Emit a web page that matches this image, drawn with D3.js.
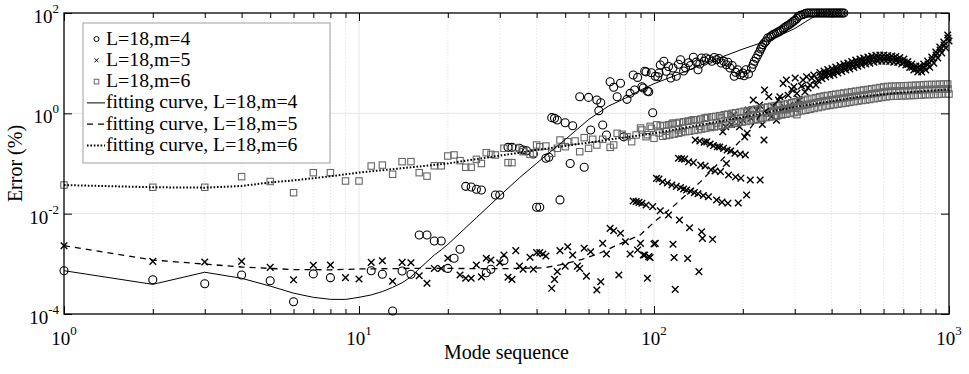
<!DOCTYPE html>
<html>
<head>
<meta charset="utf-8">
<script src="https://cdn.jsdelivr.net/npm/d3@7"></script>
<style>
  body { margin: 0; background: #fff; }
  text { font-family: "Liberation Serif", "Times New Roman", serif; fill: #000; }
</style>
</head>
<body>
<svg id="chart" width="969" height="374"></svg>
<script>
// ---- data: [mode, error %] ----
var m4Points = [[1,7.3e-4],[2,4.8e-4],[3,4.0e-4],[4,6.0e-4],[5,4.6e-4],[6,1.76e-4],[7,6.3e-4],[8,5.3e-4],
  [11,7.3e-4],[12,6.2e-4],[13,1.15e-4],[14,7.2e-4],[15,6.2e-4],[16,3.76e-3],[17,3.76e-3],[18,2.86e-3],[19,2.86e-3],[20,8.1e-4],
  [21,1.29e-3],[22,1.95e-3],[23,3.5e-2],[24,3.4e-2],[25,3.06e-2],[26,2.96e-2],[27,6.65e-4],[28,7.8e-4],[29,2.36e-2],[30,2.36e-2],
  [31,1.17e-3],[32,0.21],[33,0.21],[35,0.2],[36,0.186],[37,0.18],[39,0.155],[40,1.34e-2],[41,1.34e-2],[43,0.127],[44,0.133],
  [45,0.82],[46,0.795],[47,0.735],[48,1.88e-2],[50,0.65],[52,0.1],[53,0.565],[56,2.14],[58,0.084],[60,2.08],[61,0.465],
  [64,1.84],[65,1.13],[66,1.63],[67,0.585],[69,0.37],[71,4.27],[73,3.3],[75,2.14],[77,3.97],[79,0.34],[81,1.9],[83,2.5],
  [85,5.8],[86,2.92],[88,5.2],[91,3.39],[92,3.2],[93,6.9],[94,6.7],[95,2.75],[96,2.7],[98,6.45],[99,1.03],[101,5.5],
  [103,5.35],[104,6.35],[105,9.2],[108,10.9],[110,6.9],[112,8.6],[114,5.06],[116,8.0],[119,5.5],[121,9.5],[123,11.7],
  [126,7.0],[128,8.0],[131,10.2],[133,9.0],[136,13.1],[139,10.5],[141,7.4],[143,9.6],[145,12.7],[148,11.0],[150,12.7],
  [154,12.0],[157,10.9],[160,13.0],[163,11.7],[166,12.4],[169,10.1],[172,11.0],[176,9.3],[178,10.4],[181,8.0],[184,9.0],
  [187,5.5],[189,6.6],[192,7.4],[196,5.9],[200,6.35],[202,5.6],[205,7.4],[209,6.1],[214,8.0],[217,9.5],[219,10.9],
  [222,12.5],[225,14.7],[228,16.8],[230,19.1],[232,21.0],[234,23.4],[237,25.5],[240,27.6],[243,31.8],[247,33.0],[250,34.7],
  [253,36.9],[256,38.0],[260,39.9],[263,41.5],[267,43.1],[270,45.5],[274,48],[277,51],[281,54.2],[285,57],[289,60],[293,64],
  [297,68.2],[301,72],[305,77.6],[309,85.8],[314,90],[320,93],[325,97],[330,100],[335,100],[340,100],[345,100],[350,100],
  [355,100],[360,100],[365,100],[370,100],[375,100],[380,100],[385,100],[390,100],[395,100],[400,100],[405,100],[410,100],
  [415,100],[420,100],[425,100],[430,100],[435,100],[440,100]];

var m5Points = [[1,2.3e-3],[2,1.12e-3],[3,1.09e-3],[4,1.12e-3],[5,8.5e-4],[6,4.8e-4],[7,9.35e-4],[8,9.5e-4],[9,5.3e-4],
  [10,5.0e-4],[11,1.07e-3],[12,1.15e-3],[13,4.5e-4],[14,1.07e-3],[15,1.05e-3],[16,5.8e-4],[17,4.1e-4],[18,8.1e-4],[19,8.1e-4],
  [20,1.29e-3],[22,6.0e-4],[23,5.15e-4],[24,5.15e-4],[25,9.5e-4],[26,5.5e-4],[27,1.29e-3],[28,1.19e-3],[30,1.05e-3],
  [31,1.5e-3],[32,5.4e-4],[33,4.9e-4],[34,1.83e-3],[35,9.0e-4],[36,7.8e-4],[38,1.35e-3],[39,7.8e-4],[40,1.67e-3],
  [41,1.67e-3],[42,1.57e-3],[43,1.43e-3],[45,3.25e-4],[46,4.9e-4],[47,7.0e-4],[48,1.83e-3],[50,9.0e-4],[51,2.19e-3],
  [53,1.5e-3],[55,9.0e-4],[56,8.1e-4],[58,2.04e-3],[59,5.7e-4],[61,1.74e-3],[64,3.0e-4],[66,4.4e-4],[67,2.56e-3],
  [69,1.57e-3],[71,5.1e-3],[73,4.57e-3],[76,6.0e-4],[77,4.06e-3],[80,2.76e-3],[83,1.57e-3],[85,1.79e-2],[87,1.74e-2],
  [88,1.88e-3],[89,1.68e-2],[90,2.56e-3],[91,1.61e-2],[92,1.5e-3],[93,1.5e-3],[94,1.49e-2],[95,5.15e-4],[96,1.39e-3],
  [97,1.34e-3],[99,1.38e-2],[100,2.49e-3],[101,2.56e-3],[105,1.14e-2],[112,9.4e-3],[116,2.45e-3],[117,1.34e-3],
  [118,3.1e-4],[122,7.5e-3],[130,1.28e-3],[132,5.25e-3],[142,7.0e-4],[145,4.36e-3],[146,3.22e-3],[158,3.08e-3],
  [102,0.0506],[104,0.049],[107,0.0434],[111,0.041],[115,0.0372],[119,0.035],[123,0.0333],[126,0.031],[129,0.0297],
  [133,0.028],[137,0.0263],[141,0.025],[147,0.023],[153,0.0218],[163,0.0187],[170,0.017],[178,0.0161],[193,0.0163],[206,0.0235],
  [121,0.127],[124,0.124],[127,0.122],[131,0.108],[136,0.104],[144,0.093],[149,0.089],[156,0.0745],[161,0.071],[168,0.069],
  [176,0.1],[179,0.059],[189,0.054],[197,0.051],[212,0.047],[229,0.047],
  [138,0.294],[143,0.28],[148,0.267],[151,0.27],[155,0.245],[159,0.227],[164,0.216],[167,0.213],[172,0.2],[177,0.186],
  [182,0.177],[188,0.16],[196,0.155],[204,0.148],
  [171,0.43],[175,0.54],[183,0.6],[186,0.92],[195,0.54],[200,0.73],[203,0.34],[207,0.40],[209,1.16],[213,0.8],[217,1.84],
  [223,1.16],[228,1.46],[233,0.6],[236,0.294],[237,2.91],[241,1.0],[245,2.14],[250,0.86],[254,1.35],[260,0.73],[264,1.84],
  [267,2.14],[271,1.16],[274,3.96],[277,1.3],[281,4.61],[285,2.3],[289,1.46],[293,3.0],[298,3.39],[301,5.05],[305,2.5],
  [309,1.9],[312,1.84],[316,3.5],[320,4.61],[325,2.66],[329,5.35],[333,3.2],[338,3.67],[343,5.0],[348,5.8],[354,3.67],[360,4.5],
  [365,6.5],[377,6.97],[388,7.46],[401,7.8],[413,8.37],[427,8.97],[440,9.6],[454,10.1],[468,10.8],[483,11.5],[499,12.1],
  [514,12.7],[531,13.2],[547,13.9],[565,14.3],[583,14.5],[601,14.5],[620,14.2],[640,13.9],[660,13.6],[681,12.9],[703,12.1],
  [725,10.8],[748,9.6],[772,8.8],[796,8.8],[821,9.6],[847,11.0],[874,13.2],[902,16.7],[931,21.0],[960,26.4],[990,36.4],
  [367,5.66],[379,6.06],[390,6.49],[403,6.79],[415,7.28],[429,7.8],[442,8.35],[456,8.79],[470,9.4],[485,10.0],[501,10.5],
  [516,11.05],[533,11.5],[549,12.1],[567,12.4],[585,12.6],[603,12.6],[622,12.35],[642,12.1],[662,11.8],[683,11.2],[705,10.5],
  [727,9.4],[750,8.35],[774,7.66],[798,7.66],[823,8.35],[849,9.57],[876,11.5],[904,14.5],[933,18.3],[962,23.0],[992,31.7],
  [371,4.9],[382,5.3],[395,5.7],[407,5.9],[420,6.35],[433,6.8],[447,7.3],[461,7.7],[476,8.2],[491,8.7],[506,9.2],[522,9.6],
  [539,10.0],[556,10.5],[574,10.9],[592,11.0],[611,11.0],[630,10.8],[650,10.5],[670,10.3],[692,9.8],[714,9.2],[736,8.2],
  [760,7.3],[784,6.7],[808,6.7],[834,7.3],[860,8.3],[888,10.0],[916,12.7],[945,16.0],[975,20.0],[1000,27.6]];

var m6Points = [[1,3.73e-2],[2,3.36e-2],[3,3.36e-2],[4,5.46e-2],[5,4.38e-2],[6,2.62e-2],[7,6.56e-2],[8,6.56e-2],
  [9,4.48e-2],[10,4.48e-2],[11,8.9e-2],[12,9.3e-2],[13,6.1e-2],[14,0.109],[15,0.109],[16,6.56e-2],[17,5.6e-2],[18,9.0e-2],
  [19,9.0e-2],[20,0.141],[21,0.148],[22,0.114],[23,0.084],[24,0.084],[25,0.121],[26,0.1],[27,0.164],[28,0.152],[29,0.148],
  [31,0.201],[32,0.104],[33,0.104],[34,0.207],[36,0.172],[38,0.152],[39,0.16],[40,0.234],[41,0.216],[43,0.223],[45,0.16],
  [47,0.201],[48,0.294],[50,0.216],[51,0.272],[54,0.281],[56,0.172],[58,0.327],[60,0.201],[62,0.304],[64,0.234],[67,0.304],
  [71,0.21],[73,0.234],[75,0.4],[78,0.382],[81,0.342],[84,0.272],[87,0.37],[90,0.51],[91,0.466],[94,0.342],[95,0.375],
  [97,0.55],[98,0.503],[100,0.318],[102,0.59],
  [104,0.405],[110,0.44],[116,0.64],[121,0.47],[125,0.51],[130,0.69],[136,0.745],[143,0.55],[150,0.81],[156,0.55],[163,0.64],
  [169,0.81],[177,0.94],[183,0.87],[190,0.69],[197,0.81],[206,1.01],[214,0.94],[222,0.745],[230,0.81],[241,1.01],[250,1.1],
  [260,0.87],[270,0.94],[281,1.18],[291,1.28],[305,0.94],
  [105,0.56],[108,0.575],[112,0.59],[115,0.61],[119,0.63],[122,0.66],[126,0.68],[131,0.70],[134,0.72],[139,0.745],[144,0.77],
  [148,0.80],[152,0.83],[157,0.85],[162,0.87],[167,0.90],[173,0.94],[178,0.96],[184,1.0],[189,1.03],[196,1.06],[202,1.10],
  [208,1.13],[215,1.18],[222,1.21],[229,1.25],[236,1.30],[243,1.34],[251,1.39],[259,1.43],[267,1.48],[276,1.52],[284,1.57],
  [293,1.63],[303,1.70],[312,1.77],[322,1.83],[332,1.91],[343,1.99],[354,2.06],[365,2.15],[377,2.22],[388,2.28],[401,2.35],
  [413,2.42],[427,2.48],[440,2.55],[454,2.62],[468,2.70],[483,2.77],[499,2.85],[514,2.92],[531,3.0],[547,3.09],[565,3.17],
  [583,3.27],[601,3.36],[620,3.45],[640,3.47],[660,3.50],[681,3.52],[703,3.55],[725,3.57],[748,3.6],[772,3.64],[796,3.66],
  [821,3.73],[847,3.75],[874,3.77],[902,3.78],[931,3.82],[960,3.84],[990,3.84],
  [253,1.105],[261,1.137],[269,1.177],[278,1.208],[286,1.248],[295,1.296],[305,1.35],[314,1.407],[324,1.455],[334,1.518],
  [345,1.582],[356,1.638],[367,1.709],[379,1.765],[390,1.813],[403,1.868],[415,1.924],[429,1.972],[442,2.027],[456,2.083],
  [470,2.147],[485,2.202],[501,2.266],[516,2.321],[533,2.385],[549,2.457],[567,2.52],[585,2.6],[603,2.67],[622,2.743],
  [642,2.759],[662,2.783],[683,2.8],[705,2.82],[727,2.84],[750,2.86],[774,2.89],[798,2.91],[823,2.965],[849,2.98],
  [876,3.0],[904,3.0],[933,3.04],[962,3.05],[992,3.05],
  [107,0.35],[110,0.36],[113,0.37],[117,0.385],[121,0.40],[124,0.415],[128,0.43],[132,0.44],[137,0.455],[141,0.47],[145,0.485],
  [150,0.50],[155,0.52],[160,0.535],[165,0.55],[170,0.57],[175,0.59],[181,0.605],[187,0.63],[193,0.65],[199,0.67],[205,0.69],
  [212,0.71],[218,0.74],[225,0.76],[232,0.79],[240,0.82],[247,0.84],[255,0.88],[263,0.90],[271,0.93],[280,0.96],[289,0.99],
  [298,1.03],[307,1.07],[317,1.12],[327,1.15],[338,1.2],[349,1.25],[360,1.3],[371,1.35],[383,1.4],[395,1.44],[407,1.48],
  [420,1.52],[433,1.56],[447,1.6],[461,1.65],[476,1.7],[491,1.75],[506,1.8],[522,1.84],[539,1.89],[556,1.95],[574,2.0],
  [592,2.06],[611,2.12],[630,2.17],[650,2.19],[670,2.2],[692,2.22],[714,2.24],[736,2.25],[760,2.27],[784,2.29],[808,2.31],
  [834,2.35],[860,2.36],[888,2.38],[916,2.38],[945,2.41],[975,2.42],[1000,2.42]];

var fit4 = [[1,7.3e-4],[2,3.9e-4],[3,6.8e-4],[4,5.15e-4],[5,3.6e-4],[6,2.6e-4],[7,2.15e-4],[8,1.96e-4],[9,1.95e-4],
  [10,2.15e-4],[11,2.4e-4],[12,2.8e-4],[13,3.4e-4],[14,4.2e-4],[15,5.5e-4],[16,8.0e-4],[17,1.1e-3],[18,1.5e-3],[19,1.9e-3],
  [20,2.44e-3],[25,8.3e-3],[30,2.27e-2],[35,5.2e-2],[40,0.101],[50,0.30],[60,0.75],[70,1.39],[80,2.0],[90,2.9],[100,3.9],
  [120,5.9],[150,10.1],[200,19.1],[250,29.9],[300,49],[340,77.6],[370,100],[400,130]];
var fit5 = [[1,2.3e-3],[2,1.19e-3],[3,9.9e-4],[4,8.65e-4],[5,8.1e-4],[6,7.7e-4],[8,7.6e-4],[10,7.9e-4],[15,8.1e-4],
  [20,8.1e-4],[30,8.0e-4],[42,8.3e-4],[48,9.5e-4],[53,1.1e-3],[57,1.23e-3],[65,1.6e-3],[73,2.2e-3],[90,3.8e-3],
  [102,7.5e-3],[116,1.38e-2],[143,4.2e-2],[176,0.148],[200,0.32],[229,0.92],[289,2.66],[373,5.05],[474,8.8],
  [631,12.1],[738,10.0],[796,7.7],[862,10.5],[931,18],[1000,34]];
var fit6 = [[1,3.72e-2],[2,3.36e-2],[3,3.3e-2],[4,3.56e-2],[5,4.2e-2],[6,4.6e-2],[8,5.56e-2],[10,6.6e-2],[15,8.4e-2],
  [20,0.1],[40,0.186],[100,0.4],[200,0.84],[300,1.34],[500,2.15],[700,2.6],[1000,3.0]];

var legendLabels = ["L=18,m=4", "L=18,m=5", "L=18,m=6",
  "fitting curve, L=18,m=4", "fitting curve, L=18,m=5", "fitting curve, L=18,m=6"];
var xTickExps = [0, 1, 2, 3];
var yTickExps = [-4, -2, 0, 2];

var svg = d3.select("#chart"),
    plotL = 64, plotR = 949, plotT = 13, plotB = 314;

var x = d3.scaleLog().domain([1, 1000]).range([plotL, plotR]);
var y = d3.scaleLog().domain([1e-4, 1e2]).range([plotB, plotT]);

var isDecade = function(v) { return Math.abs(Math.log10(v) - Math.round(Math.log10(v))) < 1e-9; };
var xAll = x.ticks();
var xMinor = xAll.filter(function(d) { return !isDecade(d); });
var xMajor = xTickExps.map(function(e) { return Math.pow(10, e); });
var yMajor = yTickExps.map(function(e) { return Math.pow(10, e); });

// grid
var grid = svg.append("g");
grid.selectAll(".gminor").data(xMinor).enter().append("line")
    .attr("x1", function(d) { return x(d); }).attr("x2", function(d) { return x(d); })
    .attr("y1", plotT).attr("y2", plotB)
    .attr("stroke", "#d4d4d4").attr("stroke-width", 0.7).attr("stroke-dasharray", "1,2");
grid.selectAll(".gx").data(xMajor.slice(1, -1)).enter().append("line")
    .attr("x1", function(d) { return x(d); }).attr("x2", function(d) { return x(d); })
    .attr("y1", plotT).attr("y2", plotB)
    .attr("stroke", "#e6e6e6").attr("stroke-width", 1);
grid.selectAll(".gy").data(yMajor.slice(1, -1)).enter().append("line")
    .attr("x1", plotL).attr("x2", plotR)
    .attr("y1", function(d) { return y(d); }).attr("y2", function(d) { return y(d); })
    .attr("stroke", "#e6e6e6").attr("stroke-width", 1);

// scatter markers
var marks = svg.append("g");
marks.append("g").selectAll("circle").data(m4Points).enter().append("circle")
    .attr("cx", function(d) { return x(d[0]); })
    .attr("cy", function(d) { return y(d[1]); })
    .attr("r", 4).attr("fill", "none").attr("stroke", "#000").attr("stroke-width", 1.1);

marks.append("g").selectAll("path").data(m5Points).enter().append("path")
    .attr("d", "M-3.3,-3.3L3.3,3.3M-3.3,3.3L3.3,-3.3")
    .attr("transform", function(d) { return "translate(" + x(d[0]) + "," + y(d[1]) + ")"; })
    .attr("stroke", "#000").attr("stroke-width", 1.4).attr("fill", "none");

marks.append("g").selectAll("rect").data(m6Points).enter().append("rect")
    .attr("x", function(d) { return x(d[0]) - 3.2; })
    .attr("y", function(d) { return y(d[1]) - 3.2; })
    .attr("width", 6.4).attr("height", 6.4)
    .attr("fill", "none").attr("stroke", "#666").attr("stroke-width", 1.1);

// fitting curves
svg.append("clipPath").attr("id", "plotclip").append("rect")
    .attr("x", plotL).attr("y", plotT).attr("width", plotR - plotL).attr("height", plotB - plotT);

var line = d3.line()
    .x(function(d) { return x(d[0]); })
    .y(function(d) { return y(d[1]); });

var fits = [
  {data: fit4, dash: null, w: 1},
  {data: fit5, dash: "6,5", w: 1.3},
  {data: fit6, dash: "1.6,1.8", w: 2}
];
svg.append("g").attr("clip-path", "url(#plotclip)")
  .selectAll("path").data(fits).enter().append("path")
    .attr("d", function(d) { return line(d.data); })
    .attr("fill", "none").attr("stroke", "#000")
    .attr("stroke-width", function(d) { return d.w; })
    .attr("stroke-dasharray", function(d) { return d.dash; });

// axes (ticks point inward)
svg.append("g").attr("transform", "translate(0," + plotB + ")")
    .call(d3.axisBottom(x).tickValues(xMajor).tickSize(-8).tickSizeOuter(0).tickFormat(""));
svg.append("g").attr("transform", "translate(0," + plotB + ")")
    .call(d3.axisBottom(x).tickValues(xMinor).tickSize(-5).tickSizeOuter(0).tickFormat(""));
svg.append("g").attr("transform", "translate(0," + plotT + ")")
    .call(d3.axisTop(x).tickValues(xMajor).tickSize(-8).tickSizeOuter(0).tickFormat(""));
svg.append("g").attr("transform", "translate(0," + plotT + ")")
    .call(d3.axisTop(x).tickValues(xMinor).tickSize(-5).tickSizeOuter(0).tickFormat(""));
svg.append("g").attr("transform", "translate(" + plotL + ",0)")
    .call(d3.axisLeft(y).tickValues(yMajor).tickSize(-8).tickSizeOuter(0).tickFormat(""));
svg.append("g").attr("transform", "translate(" + plotR + ",0)")
    .call(d3.axisRight(y).tickValues(yMajor).tickSize(-8).tickSizeOuter(0).tickFormat(""));
svg.selectAll(".domain").remove();
svg.selectAll(".tick line").attr("stroke", "#000").attr("stroke-width", 1);

svg.append("rect")
    .attr("x", plotL).attr("y", plotT).attr("width", plotR - plotL).attr("height", plotB - plotT)
    .attr("fill", "none").attr("stroke", "#000").attr("stroke-width", 1.3);

// tick labels 10^n
var xl = svg.append("g").selectAll("text").data(xTickExps).enter().append("text")
    .attr("x", function(d) { return x(Math.pow(10, d)); })
    .attr("y", 345)
    .attr("text-anchor", "middle")
    .style("font-size", "19px");
xl.append("tspan").text("10");
xl.append("tspan").attr("dy", -10).style("font-size", "13px").text(function(d) { return d; });

var yl = svg.append("g").selectAll("text").data(yTickExps).enter().append("text")
    .attr("x", 59)
    .attr("y", function(d) { return y(Math.pow(10, d)) + 10; })
    .attr("text-anchor", "end")
    .style("font-size", "19px");
yl.append("tspan").text("10");
yl.append("tspan").attr("dy", -10).style("font-size", "13px").text(function(d) { return d; });

// axis titles
svg.append("text")
    .attr("x", (plotL + plotR) / 2).attr("y", 359)
    .attr("text-anchor", "middle").style("font-size", "20px")
    .text("Mode sequence");
svg.append("text")
    .attr("transform", "translate(22," + (plotT + plotB) / 2 + ") rotate(-90)")
    .attr("text-anchor", "middle").style("font-size", "20px")
    .text("Error (%)");

// legend
var lg = svg.append("g");
lg.append("rect").attr("x", 83).attr("y", 23).attr("width", 247).attr("height", 140)
    .attr("fill", "#fff").attr("stroke", "#a0a0a0").attr("stroke-width", 1);

var rowY = function(i) { return 39 + i * 21.3; };
var rows = lg.selectAll("g.row").data(legendLabels).enter().append("g")
    .attr("class", "row")
    .attr("transform", function(d, i) { return "translate(0," + rowY(i) + ")"; });

rows.append("text").attr("x", 106).attr("y", 5.5).style("font-size", "19.8px")
    .text(function(d) { return d; });

rows.filter(function(d, i) { return i === 0; }).append("circle")
    .attr("cx", 96.5).attr("cy", 0).attr("r", 2.5)
    .attr("fill", "none").attr("stroke", "#000").attr("stroke-width", 1);
rows.filter(function(d, i) { return i === 1; }).append("path")
    .attr("d", "M94.5,-2L98.5,2M94.5,2L98.5,-2")
    .attr("stroke", "#000").attr("stroke-width", 1);
rows.filter(function(d, i) { return i === 2; }).append("rect")
    .attr("x", 94.2).attr("y", -2.3).attr("width", 4.6).attr("height", 4.6)
    .attr("fill", "none").attr("stroke", "#666").attr("stroke-width", 1);
rows.filter(function(d, i) { return i >= 3; }).append("line")
    .attr("x1", 87).attr("x2", 105).attr("y1", 0).attr("y2", 0)
    .attr("stroke", "#000")
    .attr("stroke-width", function(d, i) { return fits[i].w; })
    .attr("stroke-dasharray", function(d, i) { return fits[i].dash; });
</script>
</body>
</html>
